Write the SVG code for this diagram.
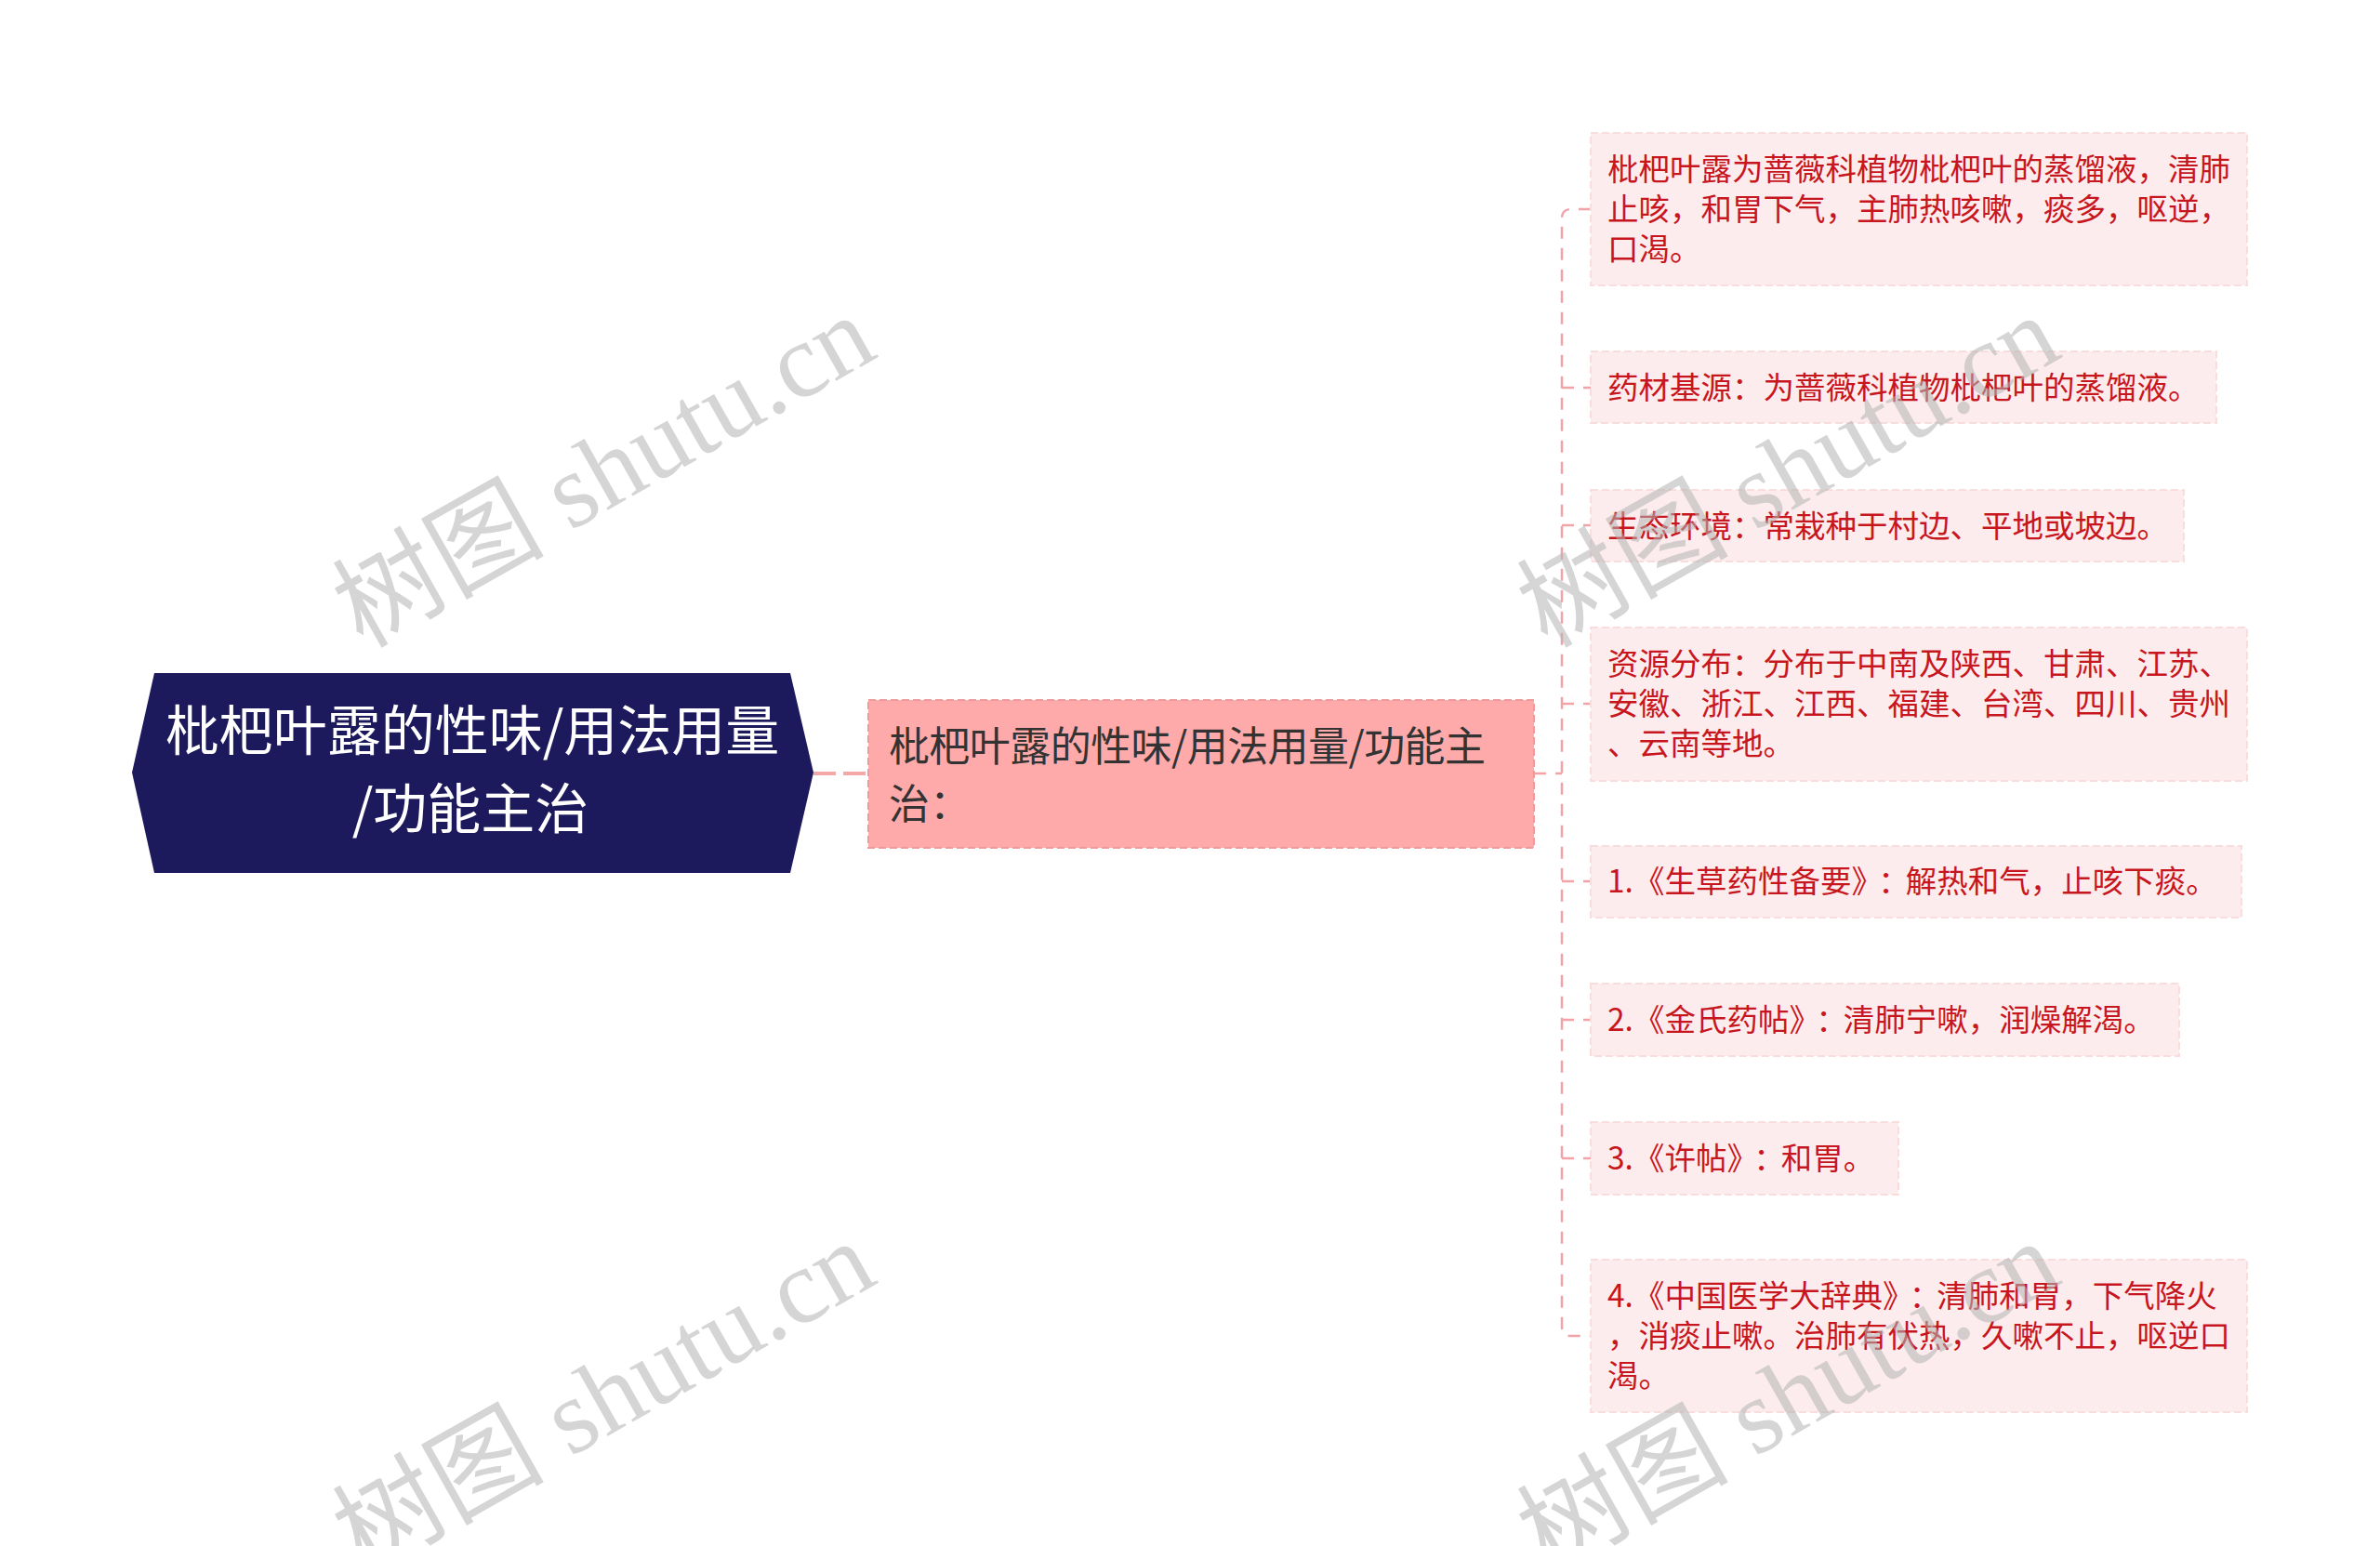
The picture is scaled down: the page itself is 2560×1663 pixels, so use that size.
<svg xmlns="http://www.w3.org/2000/svg" width="2560" height="1663" viewBox="0 0 2560 1663">
<style>
  .conn { fill: none; stroke: #f2a3a8; stroke-width: 2.5; stroke-dasharray: 13 10; }
  .conn0 { fill: none; stroke: #f4a9a9; stroke-width: 4; stroke-dasharray: 24 8; }
  .root-shape { fill: #1c1a5c; }
  .root-text { font-family: "Noto Sans CJK SC", "Noto Sans", sans-serif; font-size: 58px; fill: #ffffff; text-anchor: middle; }
  .mid-box { fill: #ffaaaa; stroke: #ef9b9b; stroke-width: 2; stroke-dasharray: 8 4; }
  .mid-text { font-family: "Noto Sans CJK SC", "Noto Sans", sans-serif; font-size: 44px; fill: #333333; }
  .leaf-box { fill: #fdeced; stroke: #f9dcdc; stroke-width: 2; stroke-dasharray: 8 4; }
  .leaf-text { font-family: "Noto Sans CJK SC", "Noto Sans", sans-serif; font-size: 33.5px; fill: #c8161e; }
  .wm { font-family: "Liberation Serif", "Noto Sans CJK SC", serif; font-size: 114px; fill: #b4b4b4; opacity: 0.55; }
</style>
<rect width="2560" height="1663" fill="#ffffff"/>

<g id="connectors">
  <path class="conn0" d="M 875 832 H 934"/>
  <path class="conn" d="M 1650 832 H 1680"/>
  <path class="conn" d="M 1711 225 H 1690 Q 1680 225 1680 235 V 1427 Q 1680 1437 1690 1437 H 1711"/>
  <path class="conn" d="M 1680 417 H 1711"/>
  <path class="conn" d="M 1680 565 H 1711"/>
  <path class="conn" d="M 1680 757 H 1711"/>
  <path class="conn" d="M 1680 948 H 1711"/>
  <path class="conn" d="M 1680 1097 H 1711"/>
  <path class="conn" d="M 1680 1246 H 1711"/>
</g>

<g id="root">
  <polygon class="root-shape" points="166,724 850,724 875,831 850,939 166,939 142,831"/>
  <text class="root-text" x="508" y="807">枇杷叶露的性味/用法用量</text>
  <text class="root-text" x="506" y="891">/功能主治</text>
</g>

<g id="mid">
  <rect class="mid-box" x="934" y="753" width="716" height="159"/>
  <text class="mid-text" x="956" y="819" textLength="642">枇杷叶露的性味/用法用量/功能主</text>
  <text class="mid-text" x="956" y="881">治：</text>
</g>

<g id="leaf1">
  <rect class="leaf-box" x="1711" y="143" width="706" height="164"/>
  <text class="leaf-text" x="1729" y="194">枇杷叶露为蔷薇科植物枇杷叶的蒸馏液，清肺</text>
  <text class="leaf-text" x="1729" y="237">止咳，和胃下气，主肺热咳嗽，痰多，呕逆，</text>
  <text class="leaf-text" x="1729" y="280">口渴。</text>
</g>

<g id="leaf2">
  <rect class="leaf-box" x="1711" y="378" width="673" height="77"/>
  <text class="leaf-text" x="1729" y="429">药材基源：为蔷薇科植物枇杷叶的蒸馏液。</text>
</g>

<g id="leaf3">
  <rect class="leaf-box" x="1711" y="527" width="638" height="77"/>
  <text class="leaf-text" x="1729" y="578">生态环境：常栽种于村边、平地或坡边。</text>
</g>

<g id="leaf4">
  <rect class="leaf-box" x="1711" y="675" width="706" height="165"/>
  <text class="leaf-text" x="1729" y="726">资源分布：分布于中南及陕西、甘肃、江苏、</text>
  <text class="leaf-text" x="1729" y="769">安徽、浙江、江西、福建、台湾、四川、贵州</text>
  <text class="leaf-text" x="1729" y="812">、云南等地。</text>
</g>

<g id="leaf5">
  <rect class="leaf-box" x="1711" y="910" width="700" height="77"/>
  <text class="leaf-text" x="1729" y="960">1.《生草药性备要》<tspan dx="12">：</tspan><tspan dx="-4">解热和气，止咳下痰。</tspan></text>
</g>

<g id="leaf6">
  <rect class="leaf-box" x="1711" y="1058" width="633" height="78"/>
  <text class="leaf-text" x="1729" y="1109">2.《金氏药帖》<tspan dx="12">：</tspan><tspan dx="-4">清肺宁嗽，润燥解渴。</tspan></text>
</g>

<g id="leaf7">
  <rect class="leaf-box" x="1711" y="1207" width="331" height="78"/>
  <text class="leaf-text" x="1729" y="1258">3.《许帖》<tspan dx="12">：</tspan><tspan dx="-4">和胃。</tspan></text>
</g>

<g id="leaf8">
  <rect class="leaf-box" x="1711" y="1355" width="706" height="164"/>
  <text class="leaf-text" x="1729" y="1406">4.《中国医学大辞典》<tspan dx="12">：</tspan><tspan dx="-4">清肺和胃，下气降火</tspan></text>
  <text class="leaf-text" x="1729" y="1449">，消痰止嗽。治肺有伏热，久嗽不止，呕逆口</text>
  <text class="leaf-text" x="1729" y="1492">渴。</text>
</g>

<g id="watermarks">
  <text class="wm" transform="translate(390 698) rotate(-29.5)">树图 shutu.cn</text>
  <text class="wm" transform="translate(390 1694) rotate(-29.5)">树图 shutu.cn</text>
  <text class="wm" transform="translate(1664 698) rotate(-29.5)">树图 shutu.cn</text>
  <text class="wm" transform="translate(1664 1694) rotate(-29.5)">树图 shutu.cn</text>
</g>
</svg>
